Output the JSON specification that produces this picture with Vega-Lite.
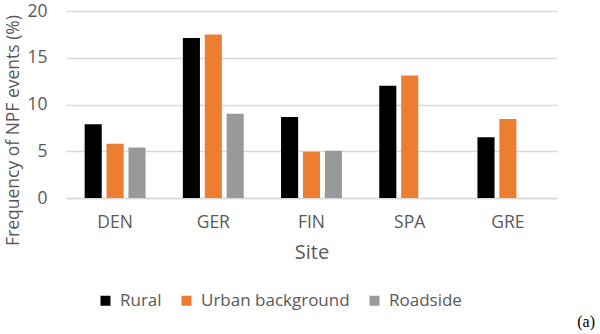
{
  "$schema": "https://vega.github.io/schema/vega-lite/v6.json",
  "width": 491,
  "height": 187,
  "autosize": "none",
  "padding": {"left": 66, "top": 11, "right": 43, "bottom": 136},
  "background": "white",
  "config": {"view": {"stroke": null}, "font": "Open Sans"},
  "title": {"text": "(a)", "orient": "bottom", "anchor": "end", "font": "Liberation Serif", "fontSize": 16, "fontWeight": "normal", "color": "#000000", "dx": 38, "offset": 5},
  "data": {"values": [
    {"site": "DEN", "type": "Rural", "value": 7.9},
    {"site": "DEN", "type": "Urban background", "value": 5.8},
    {"site": "DEN", "type": "Roadside", "value": 5.4},
    {"site": "GER", "type": "Rural", "value": 17.1},
    {"site": "GER", "type": "Urban background", "value": 17.5},
    {"site": "GER", "type": "Roadside", "value": 9.0},
    {"site": "FIN", "type": "Rural", "value": 8.65},
    {"site": "FIN", "type": "Urban background", "value": 4.95},
    {"site": "FIN", "type": "Roadside", "value": 5.05},
    {"site": "SPA", "type": "Rural", "value": 12.0},
    {"site": "SPA", "type": "Urban background", "value": 13.1},
    {"site": "GRE", "type": "Rural", "value": 6.5},
    {"site": "GRE", "type": "Urban background", "value": 8.45}
  ]},
  "mark": {"type": "bar"},
  "encoding": {
    "x": {"field": "site", "type": "nominal", "sort": ["DEN", "GER", "FIN", "SPA", "GRE"],
      "scale": {"paddingInner": 0.38, "paddingOuter": 0.19},
      "axis": {"title": "Site", "labelAngle": 0, "labelFontSize": 17.5, "labelColor": "#595959", "labelPadding": 15, "ticks": false, "domainColor": "#D9D9D9", "domainWidth": 1.5, "titleFontSize": 20, "titleFontWeight": "normal", "titleColor": "#595959", "titlePadding": 12}},
    "xOffset": {"field": "type", "type": "nominal", "sort": ["Rural", "Urban background", "Roadside"], "scale": {"paddingInner": 0.22, "paddingOuter": 0}},
    "y": {"field": "value", "type": "quantitative",
      "scale": {"domain": [0, 20]},
      "axis": {"title": "Frequency of NPF events (%)", "values": [0, 5, 10, 15, 20], "labelFontSize": 17.5, "labelColor": "#595959", "labelPadding": 19, "ticks": false, "domain": false, "gridColor": "#D9D9D9", "gridWidth": 1.5, "titleFontSize": 17.5, "titleFontWeight": "normal", "titleColor": "#595959", "titleX": -44, "titleY": 119}},
    "color": {"field": "type", "type": "nominal", "sort": ["Rural", "Urban background", "Roadside"],
      "scale": {"domain": ["Rural", "Urban background", "Roadside"], "range": ["#000000", "#ED7D31", "#999999"]},
      "legend": {"title": null, "orient": "none", "direction": "horizontal", "legendX": 31, "legendY": 281, "symbolType": "square", "symbolSize": 100, "symbolStrokeWidth": 0, "labelFontSize": 17, "labelColor": "#595959", "labelOffset": 6, "columnPadding": 16}}
  }
}
